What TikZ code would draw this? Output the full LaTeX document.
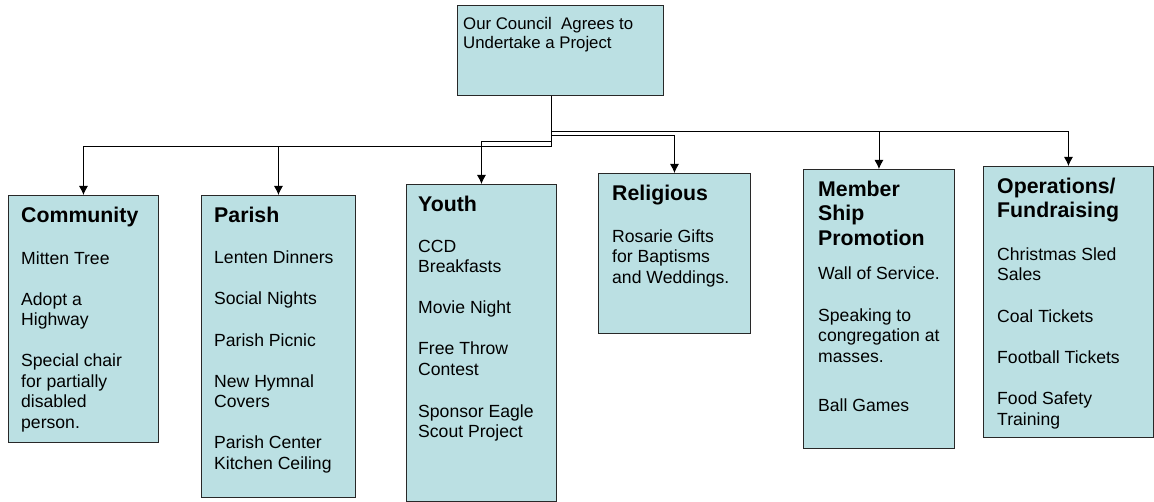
\documentclass[tikz,border=0pt]{standalone}
\usepackage{fontspec}
\setmainfont{Liberation Sans}
\usetikzlibrary{arrows.meta}

\definecolor{boxfill}{RGB}{187,224,227}
\definecolor{boxline}{RGB}{40,40,40}

\tikzset{
  catbox/.style={draw=boxline, line width=0.9pt, fill=boxfill, anchor=north west, inner sep=0pt},
  cattext/.style={anchor=north west, align=left, inner sep=0pt, font=\fontsize{17.6}{20.5}\selectfont},
  link/.style={draw=black, line width=0.9pt, -{Latex[length=9pt,width=9pt]}}
}
\newcommand{\cathead}[1]{{\fontsize{21.3}{24.5}\selectfont\bfseries #1}}

\begin{document}
\begin{tikzpicture}[x=1pt,y=-1pt]
\useasboundingbox (0,0) rectangle (1154,502);

% the project box
\node[catbox, minimum width=206pt, minimum height=90pt] (council) at (457,5) {};
\node[cattext, font=\fontsize{16.8}{19.5}\selectfont] (council-txt) at ([shift={(6,11.8)}]council.north west)
  {Our Council~ Agrees to\\Undertake a Project};

% the six areas
\node[catbox, minimum width=150pt, minimum height=247pt] (community) at (8,195) {};
\node[catbox, minimum width=154pt, minimum height=302pt] (parish) at (201,195) {};
\node[catbox, minimum width=150pt, minimum height=317pt] (youth) at (406,184) {};
\node[catbox, minimum width=152pt, minimum height=160pt] (religious) at (598,173) {};
\node[catbox, minimum width=151pt, minimum height=279pt] (member) at (803,169) {};
\node[catbox, minimum width=170pt, minimum height=271pt] (operations) at (983,166) {};

\node[cattext] (community-txt) at ([shift={(13,11.5)}]community.north west)
  {\cathead{Community}\\[21.5pt]
   Mitten Tree\\[20.5pt]
   Adopt a\\Highway\\[20.5pt]
   Special chair\\for partially\\disabled\\person.};

\node[cattext] (parish-txt) at ([shift={(13,11.5)}]parish.north west)
  {\cathead{Parish}\\[20.5pt]
   Lenten Dinners\\[20.5pt]
   Social Nights\\[21.5pt]
   Parish Picnic\\[20.5pt]
   New Hymnal\\Covers\\[20.5pt]
   Parish Center\\Kitchen Ceiling};

\node[cattext] (youth-txt) at ([shift={(12,11.5)}]youth.north west)
  {\cathead{Youth}\\[20.5pt]
   CCD\\Breakfasts\\[20.5pt]
   Movie Night\\[20.5pt]
   Free Throw\\Contest\\[21.5pt]
   Sponsor Eagle\\Scout Project};

\node[cattext] (religious-txt) at ([shift={(14,11.5)}]religious.north west)
  {\cathead{Religious}\\[21.5pt]
   Rosarie Gifts\\for Baptisms\\and Weddings.};

\node[cattext] (member-txt) at ([shift={(15,11.5)}]member.north west)
  {\cathead{Member}\\[4pt]\cathead{Ship}\\[4pt]\cathead{Promotion}\\[13.5pt]
   Wall of Service.\\[21.5pt]
   Speaking to\\congregation at\\masses.\\[28.5pt]
   Ball Games};

\node[cattext] (operations-txt) at ([shift={(14,11.5)}]operations.north west)
  {\cathead{Operations/}\\[3.5pt]\cathead{Fundraising}\\[22.5pt]
   Christmas Sled\\Sales\\[21.5pt]
   Coal Tickets\\[20.5pt]
   Football Tickets\\[20.5pt]
   Food Safety\\Training};

% connectors
\draw[link] ([xshift=-9pt]council.south) -- ++(0,51) -| (community.north);
\draw[link] ([xshift=-9pt]council.south) -- ++(0,51) -| (parish.north);
\draw[link] ([xshift=-9pt]council.south) -- ++(0,46) -| (youth.north);
\draw[link] ([xshift=-9pt]council.south) -- ++(0,40) -| (religious.north);
\draw[link] ([xshift=-9pt]council.south) -- ++(0,36) -| (member.north);
\draw[link] ([xshift=-9pt]council.south) -- ++(0,36) -| (operations.north);

\end{tikzpicture}
\end{document}
